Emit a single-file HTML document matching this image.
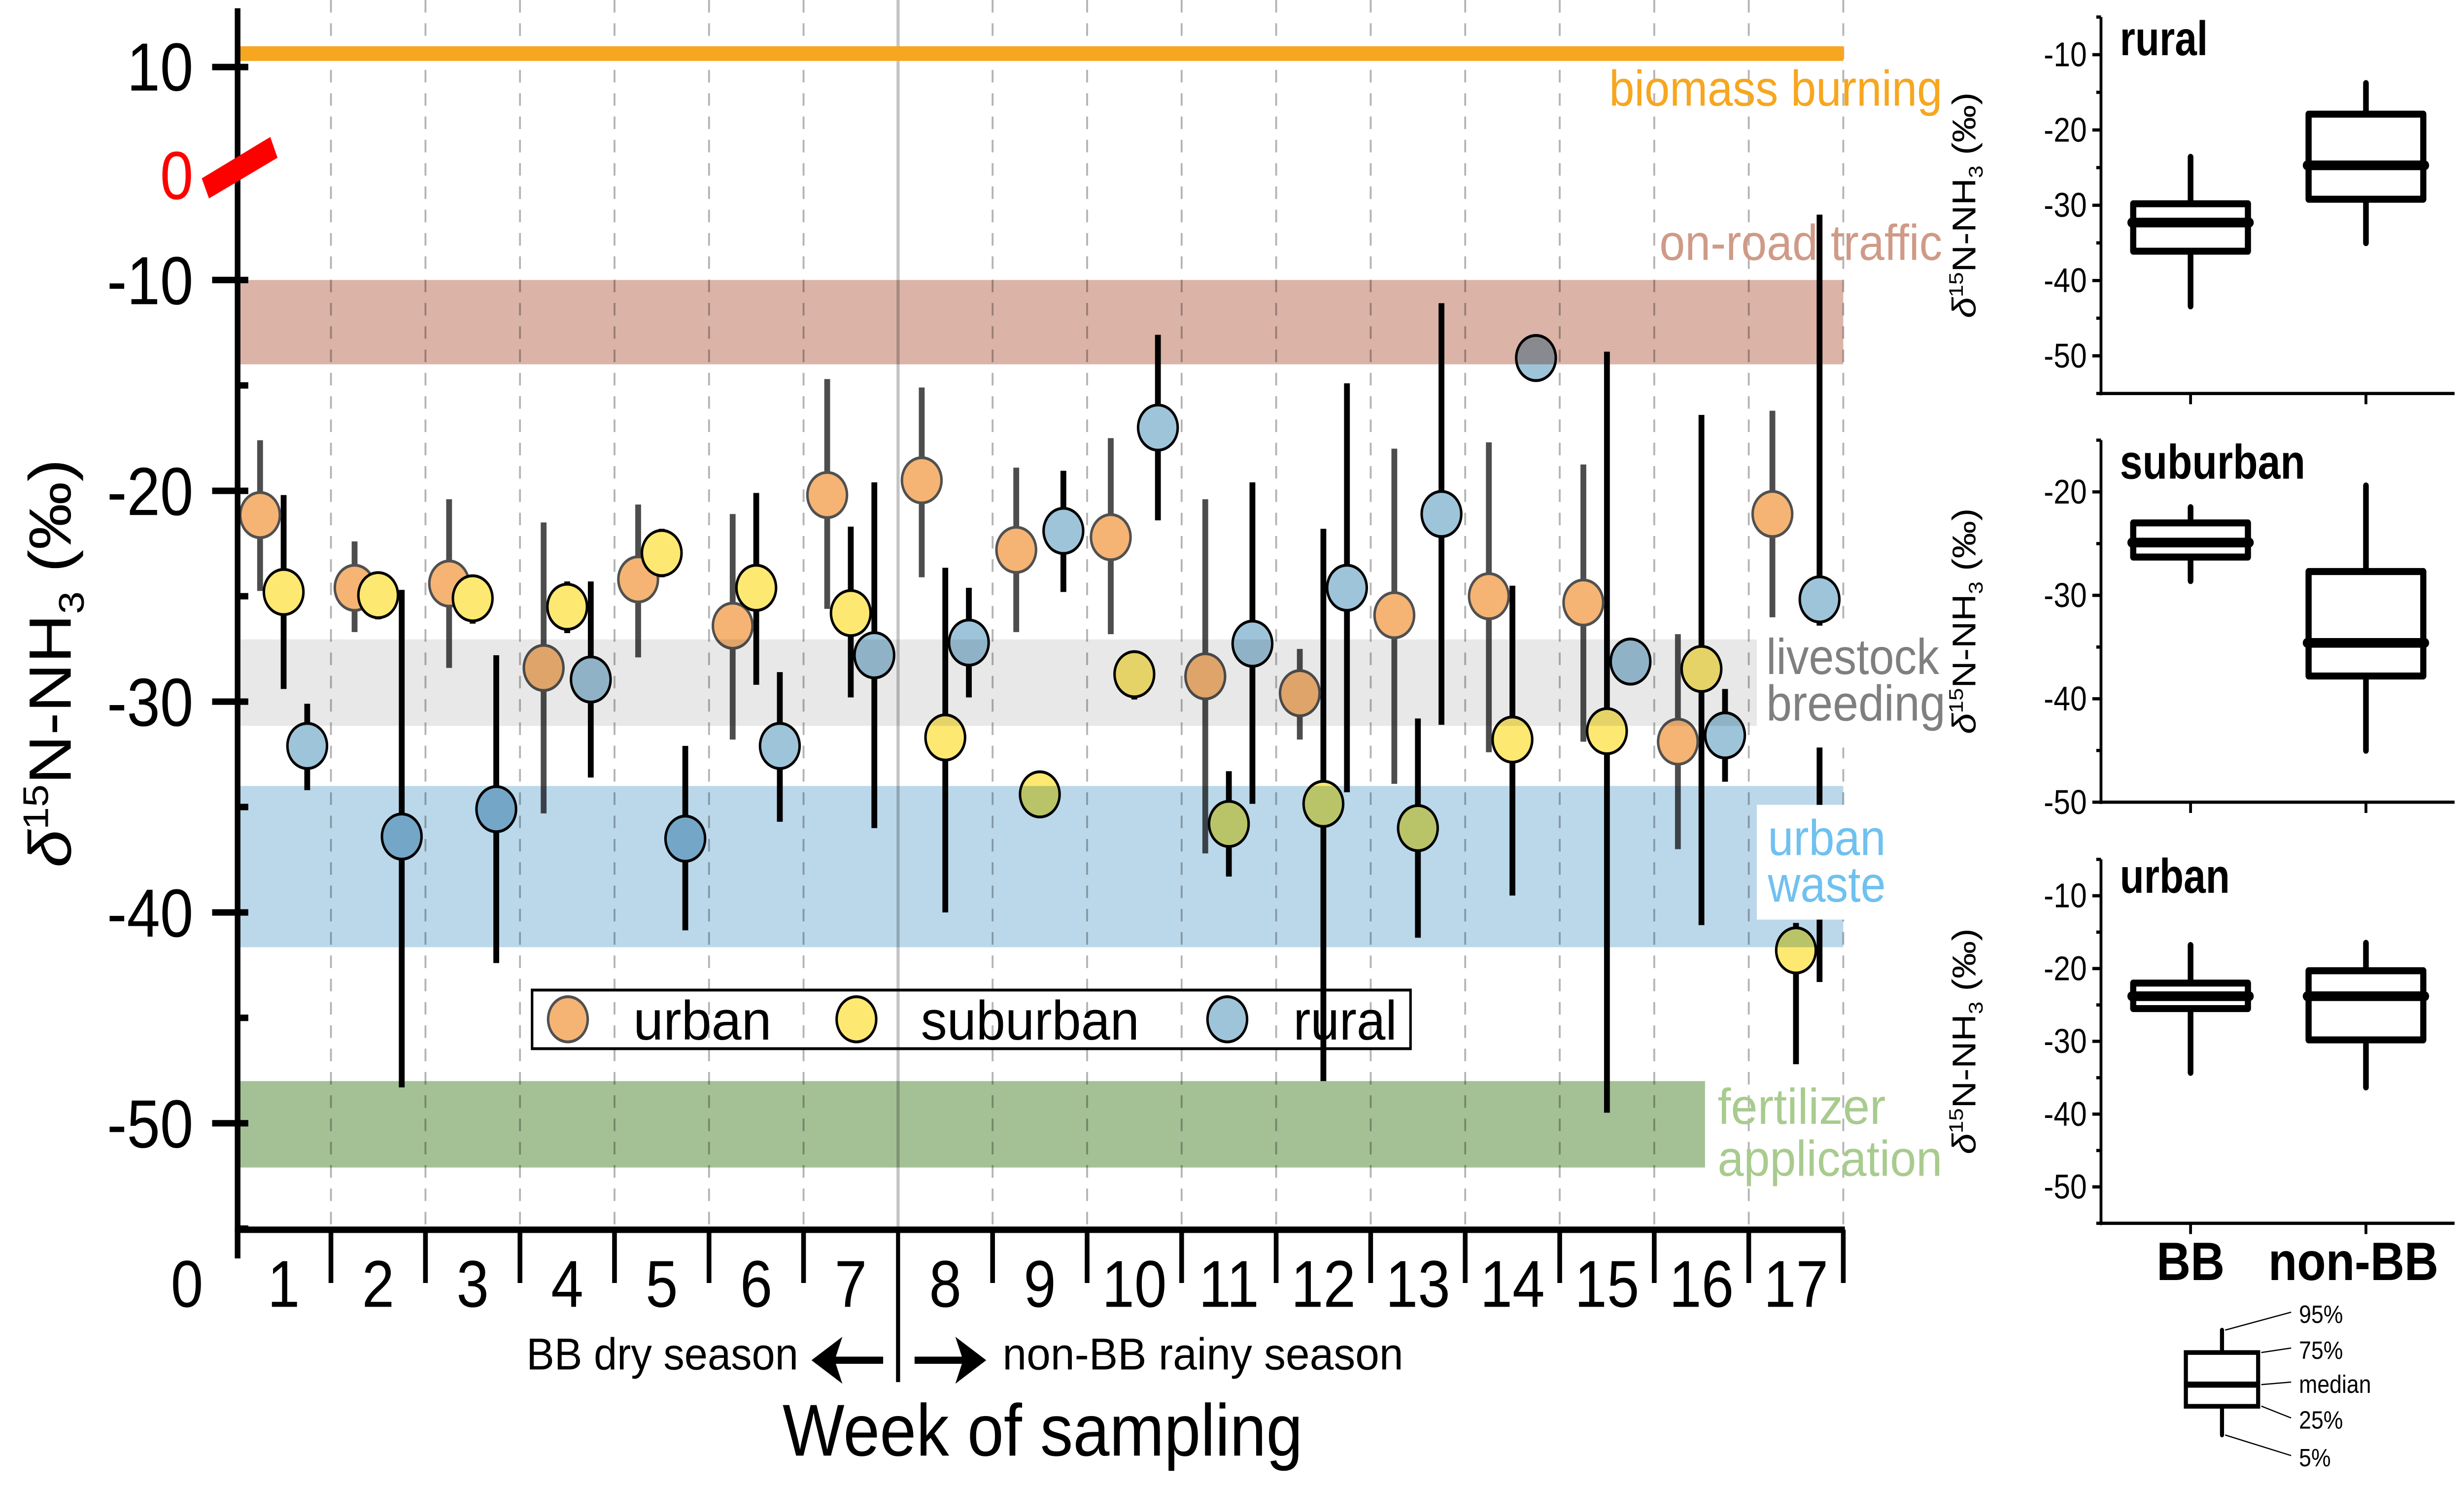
<!DOCTYPE html>
<html><head><meta charset="utf-8"><style>
html,body{margin:0;padding:0;background:#fff;width:100%;height:100%;overflow:hidden;}
svg{display:block;width:100vw;height:100vh;position:absolute;left:0;top:0;}
text{font-family:"Liberation Sans","DejaVu Sans",sans-serif;}
</style></head><body>
<svg id="chart" xmlns="http://www.w3.org/2000/svg" viewBox="0 0 1568 828.4" preserveAspectRatio="none">
<g id="grid"></g>
<g id="bars"></g>
<g id="marks"></g>
<g id="bands" style="mix-blend-mode:multiply"></g>
<g id="over"></g>
<g id="axes"></g>
<g id="right"></g>
</svg>
<script>
const weeks=[1,2,3,4,5,6,7,8,9,10,11,12,13,14,15,16,17];
const urbanVal=[-21.15,-24.6,-24.4,-28.4,-24.2,-26.4,-20.2,-19.5,-22.8,-22.2,-28.8,-29.6,-25.9,-25.0,-25.3,-31.9,-21.1];
const urbanHi=[-17.6,-22.4,-20.4,-21.5,-20.65,-21.1,-14.7,-15.1,-18.9,-17.5,-20.4,-27.5,-18.0,-17.7,-18.75,-26.8,-16.2];
const urbanLo=[-24.75,-26.7,-28.4,-35.3,-27.9,-31.8,-25.6,-24.1,-26.7,-26.8,-37.2,-31.8,-33.9,-32.4,-31.9,-37.0,-26.0];
const suburbanVal=[-24.8,-24.95,-25.1,-25.5,-22.95,-24.6,-25.8,-31.7,-34.4,-28.7,-35.8,-34.85,-36.0,-31.8,-31.4,-28.45,-41.8];
const suburbanHi=[-20.2,-23.9,-24.0,-24.3,-21.8,-20.1,-21.7,-23.65,-33.3,-27.6,-33.3,-21.8,-30.8,-24.5,-13.4,-16.4,-40.5];
const suburbanLo=[-29.4,-26.1,-26.3,-26.75,-24.1,-29.2,-29.8,-40.0,-35.5,-29.9,-38.3,-48.0,-41.2,-39.2,-49.5,-40.6,-47.2];
const ruralVal=[-32.1,-36.4,-35.1,-28.95,-36.5,-32.1,-27.8,-27.2,-21.9,-17.0,-27.25,-24.6,-21.1,-13.7,-28.1,-31.6,-25.15];
const ruralHi=[-30.1,-24.7,-27.8,-24.3,-32.1,-28.6,-19.6,-24.6,-19.05,-12.6,-19.6,-14.9,-11.1,null,null,-29.4,-6.9];
const ruralLo=[-34.2,-48.3,-42.4,-33.6,-40.85,-35.7,-36.0,-29.8,-24.8,-21.4,-34.85,-34.3,-31.1,null,null,-33.8,-43.3];
const yTicks=[-10,-20,-30,-40,-50];
const yTickLabels=["-10","-20","-30","-40","-50"];
const bandNames=["on-road-traffic-band","livestock-breeding-band","urban-waste-band","fertilizer-application-band"];
const bandTop=[-10,-27.05,-34.0,-48.0];
const bandBottom=[-14.0,-31.15,-41.65,-52.1];
const panelNames=["rural","suburban","urban"];
const boxBB=[[-43.4,-36.1,-32.3,-29.8,-23.6],[-28.6,-26.3,-24.9,-23.0,-21.5],[-34.3,-25.5,-23.8,-22.0,-16.8]];
const boxNonBB=[[-35.0,-29.2,-24.7,-17.9,-13.8],[-45.0,-37.8,-34.6,-27.7,-19.4],[-36.3,-29.8,-23.8,-20.3,-16.5]];
const panelTickLabels=[["-10","-20","-30","-40","-50"],["-20","-30","-40","-50"],["-10","-20","-30","-40","-50"]];
const panelTicks=[[-10,-20,-30,-40,-50],[-20,-30,-40,-50],[-10,-20,-30,-40,-50]];

const NS="http://www.w3.org/2000/svg";
function mk(parent,tag,attrs,txt){const e=document.createElementNS(NS,tag);for(const k in attrs)e.setAttribute(k,attrs[k]);if(txt!==undefined)e.textContent=txt;parent.appendChild(e);return e;}
const Y=v=>156.2+(-10-v)*11.76;
const X=w=>180.5+(w-1)*60.15;
const G=id=>document.getElementById(id);

for(let i=0;i<17;i++){const x=210.6+i*60.15; if(i===6)continue;
 const l=mk(G('grid'),'line',{x1:x,x2:x,y1:0,y2:686,stroke:'#b4b4b4','stroke-width':1.2,'stroke-dasharray':'7,6'});
 
 }
{const l=mk(G('grid'),'line',{x1:571.5,x2:571.5,y1:0,y2:686,stroke:'#c4c4c4','stroke-width':2});
 
 }
{const r=mk(G('grid'),'rect',{x:151,y:25.8,width:1022,height:8.2,fill:'#f7a61f'});
 
 }

const series=[
 {name:'urban',v:urbanVal,hi:urbanHi,lo:urbanLo,off:-15,fill:'#f5b473',stroke:'#505050',bar:'#4d4d4d'},
 {name:'suburban',v:suburbanVal,hi:suburbanHi,lo:suburbanLo,off:0,fill:'#fde872',stroke:'#000',bar:'#000'},
 {name:'rural',v:ruralVal,hi:ruralHi,lo:ruralLo,off:15,fill:'#9ec4da',stroke:'#000',bar:'#000'}];
series.forEach(s=>{weeks.forEach((w,i)=>{const x=X(w)+s.off;
 if(s.hi[i]!==null){const l=mk(G('bars'),'line',{x1:x,x2:x,y1:Y(s.hi[i]),y2:Y(s.lo[i]),stroke:s.bar,'stroke-width':3.7});
  
  }
 const c=mk(G('marks'),'circle',{cx:x,cy:Y(s.v[i]),r:12.6,fill:s.fill,stroke:s.stroke,'stroke-width':1.6});
 
 });});

const bandFill=['#dbb3a7','#e8e8e8','#bbd8ea','#a3c195'];
bandNames.forEach((n,i)=>{const xr=i===3?1085:1173;
 const r=mk(G('bands'),'rect',{x:151,y:Y(bandTop[i]),width:xr-151,height:Y(bandBottom[i])-Y(bandTop[i]),fill:bandFill[i]});
 
 });

const ov=G('over');
mk(ov,'rect',{x:1118,y:349,width:122,height:68,fill:'#fff',});
mk(ov,'rect',{x:1118,y:449,width:122,height:64,fill:'#fff',});
function lab(t,x,y,col,len,name){mk(ov,'text',{x:x,y:y,fill:col,'font-size':28,textLength:len,lengthAdjust:'spacingAndGlyphs',},t);}
lab('biomass burning',1024,59,'#f7a61f',212,'biomass-burning-label');
lab('on-road traffic',1056,145,'#cf9a87',180,'on-road-traffic-label');
lab('livestock',1124,376,'#7f7f7f',110,'livestock-label');
lab('breeding',1124,402,'#7f7f7f',114,'breeding-label');
lab('urban',1125,477,'#6fc1ef',75,'urban-label');
lab('waste',1125,503,'#6fc1ef',75,'waste-label');
lab('fertilizer',1093,627,'#a8cb8e',107,'fertilizer-label');
lab('application',1093,656,'#a8cb8e',143,'application-label');

mk(ov,'rect',{x:338.6,y:552.3,width:559,height:32.7,fill:'none',stroke:'#000','stroke-width':1.6,});
[['urban',361.4,403,'#f5b473','#505050',88],['suburban',545,586,'#fde872','#000',139],['rural',781,823,'#9ec4da','#000',66]].forEach(e=>{
 mk(ov,'circle',{cx:e[1],cy:568.6,r:12.6,fill:e[3],stroke:e[4],'stroke-width':1.6,});
 mk(ov,'text',{x:e[2],y:580,'font-size':31,textLength:e[5],lengthAdjust:'spacingAndGlyphs',},e[0]);});

const ax=G('axes');
mk(ax,'line',{x1:151.2,x2:151.2,y1:4.6,y2:702,stroke:'#000','stroke-width':3.6});
mk(ax,'line',{x1:149.4,x2:1174,y1:686,y2:686,stroke:'#000','stroke-width':3.6});
mk(ax,'line',{x1:135,x2:158,y1:37.4,y2:37.4,stroke:'#000','stroke-width':3.6});
mk(ax,'text',{x:123,y:50.5,'font-size':38,'text-anchor':'end',},'10');
mk(ax,'text',{x:123,y:111,'font-size':38,'text-anchor':'end',fill:'#ff0000',},'0');
mk(ax,'polygon',{points:'128.4,99.5 133,110.7 176.6,88 172,76.4',fill:'#ff0000',});
yTicks.forEach((v,i)=>{
 const l=mk(ax,'line',{x1:135,x2:158,y1:Y(v),y2:Y(v),stroke:'#000','stroke-width':3.6});
 
 
 const m=mk(ax,'line',{x1:151,x2:158,y1:Y(v-5),y2:Y(v-5),stroke:'#000','stroke-width':3.6});
 
 
 const t=mk(ax,'text',{x:123,y:Y(v)+13.5,'font-size':38,'text-anchor':'end'},yTickLabels[i]);
 
 });
for(let i=0;i<17;i++){const x=210.6+i*60.15;
 const l=mk(ax,'line',{x1:x,x2:x,y1:686,y2:i===6?771:715.7,stroke:'#000','stroke-width':i===6?2.6:3});
 
 }
mk(ax,'text',{x:119,y:729,'font-size':37,'text-anchor':'middle',},'0');
weeks.forEach(w=>{const t=mk(ax,'text',{x:X(w),y:729,'font-size':37,'text-anchor':'middle'},String(w));
 
 });
mk(ax,'text',{x:335,y:764,'font-size':25,textLength:173,lengthAdjust:'spacingAndGlyphs',},'BB dry season');
mk(ax,'text',{x:638,y:764,'font-size':25,textLength:255,lengthAdjust:'spacingAndGlyphs',},'non-BB rainy season');
mk(ax,'path',{d:'M562,758.8 H530 M520,758.8 l12,-8 l-3,8 l3,8 z',stroke:'#000','stroke-width':4,fill:'#000',});
mk(ax,'path',{d:'M582,758.8 H614 M624,758.8 l-12,-8 l3,8 l-3,8 z',stroke:'#000','stroke-width':4,fill:'#000',});
mk(ax,'text',{x:498,y:812,'font-size':41,textLength:331,lengthAdjust:'spacingAndGlyphs',},'Week of sampling');
function ytitle(parent,cx,cy,fs,name){const t=mk(parent,'text',{x:0,y:0,'font-size':fs,'text-anchor':'middle',transform:`translate(${cx},${cy}) rotate(-90)`,});
 t.innerHTML='<tspan font-style="italic">δ</tspan><tspan dy="-'+(fs*0.38)+'" font-size="'+(fs*0.6)+'">15</tspan><tspan dy="'+(fs*0.38)+'">N-NH</tspan><tspan dy="'+(fs*0.22)+'" font-size="'+(fs*0.6)+'">3</tspan><tspan dy="-'+(fs*0.22)+'"> (‰)</tspan>';}
ytitle(ax,45,370,38,'y-axis-title');

const rp=G('right');
const panels=[{top:-5,bot:-55,y0:30.5,k:4.2,t0:-10,ty:30.8},{top:-15,bot:-50,y0:274.4,k:5.77,t0:-20,ty:267},{top:-5,bot:-55,y0:499.7,k:4.06,t0:-10,ty:498}];
const titleLen=[56,118,70];
const AX=1337, BBX=1394, NBX=1505.6, BW=73;
panels.forEach((p,pi)=>{const py=v=>p.y0+(p.t0-v)*p.k;
 const g=mk(rp,'g',{});
 
 
 mk(g,'line',{x1:AX,x2:AX,y1:py(p.top),y2:py(p.bot)+1,stroke:'#000','stroke-width':1.8});
 mk(g,'line',{x1:AX-1,x2:1562,y1:py(p.bot),y2:py(p.bot),stroke:'#000','stroke-width':1.8});
 [BBX,NBX].forEach(x=>mk(g,'line',{x1:x,x2:x,y1:py(p.bot),y2:py(p.bot)+6,stroke:'#000','stroke-width':1.8}));
 for(let v=p.top;v>=p.bot;v-=5){const major=panelTicks[pi].includes(v);
  mk(g,'line',{x1:major?AX-5.5:AX-3,x2:AX,y1:py(v),y2:py(v),stroke:'#000','stroke-width':1.8});}
 panelTicks[pi].forEach((v,i)=>{const t=mk(g,'text',{x:1328,y:py(v)+6.5,'font-size':19,'text-anchor':'end'},panelTickLabels[pi][i]);
  
  });
 const tt=mk(g,'text',{x:1349,y:p.ty,'font-size':27,'font-weight':'bold',textLength:titleLen[pi],lengthAdjust:'spacingAndGlyphs'},panelNames[pi]);
 
 
 ytitle(g,1257,(py(p.top)+py(p.bot))/2,21,'panel-y-axis-title');
 [[BBX,boxBB[pi]],[NBX,boxNonBB[pi]]].forEach(b=>{const x=b[0],d=b[1];
  const bg=mk(g,'g',{});
  
  
  mk(bg,'line',{x1:x,x2:x,y1:py(d[4]),y2:py(d[0]),stroke:'#000','stroke-width':3.6,'stroke-linecap':'round'});
  mk(bg,'rect',{x:x-BW/2,y:py(d[3]),width:BW,height:py(d[1])-py(d[3]),fill:'#fff',stroke:'#000','stroke-width':3.9,'stroke-linejoin':'round'});
  mk(bg,'line',{x1:x-BW/2-1,x2:x+BW/2+1,y1:py(d[2]),y2:py(d[2]),stroke:'#000','stroke-width':5.4,'stroke-linecap':'round'});});
});
mk(rp,'text',{x:BBX,y:714,'font-size':30,'font-weight':'bold','text-anchor':'middle',},'BB');
mk(rp,'text',{x:NBX-8,y:714,'font-size':30,'font-weight':'bold','text-anchor':'middle',},'non-BB');
const kg=mk(rp,'g',{});
mk(kg,'line',{x1:1414,x2:1414,y1:742,y2:800.5,stroke:'#000','stroke-width':2.6,'stroke-linecap':'round'});
mk(kg,'rect',{x:1391,y:754.5,width:46,height:30,fill:'#fff',stroke:'#000','stroke-width':2.6});
mk(kg,'line',{x1:1391,x2:1437,y1:772.4,y2:772.4,stroke:'#000','stroke-width':3.4});
[['95%',742,733],['75%',754.5,753],['median',772.4,772],['25%',784.4,792],['5%',800.5,813]].forEach((k,i)=>{
 const x0=i===0||i===4?1416:1439;
 mk(kg,'line',{x1:x0,y1:k[1],x2:1458,y2:k[2]-1,stroke:'#000','stroke-width':0.7});
 mk(kg,'text',{x:1463,y:k[2]+5,'font-size':14},k[0]);});
</script>
</body></html>
